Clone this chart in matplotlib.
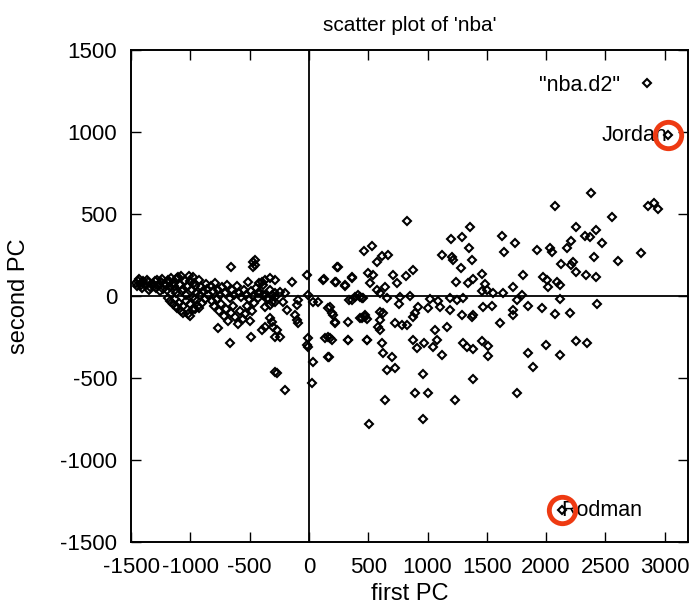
import matplotlib
matplotlib.use("Agg")
import matplotlib.pyplot as plt

plt.rcParams['font.family'] = ['Liberation Sans', 'DejaVu Sans']
plt.rcParams['axes.unicode_minus'] = False

# first / second principal component scores
left_x = [-1460, -1440, -1420, -1400, -1380, -1360, -1340, -1320, -1300, -1290,
          -1270, -1250, -1230, -1210, -1190, -1170, -1150, -1130, -1110, -1090,
          -1070, -1050, -1030, -1010, -990, -970, -950, -930, -910, -890,
          -870, -850, -830, -810, -790, -770, -750, -730, -710, -690,
          -670, -650, -630, -610, -590, -570, -550, -530, -510, -490,
          -470, -450, -430, -410, -390, -370, -350, -330, -310, -290,
          -1190, -1170, -1150, -1130, -1110, -1100, -1080, -1060, -1040, -1020,
          -1000, -980, -960, -940, -900,
          -820, -800, -780, -760, -740, -720, -700, -680, -660, -640,
          -620, -600, -580, -560, -540, -520, -500, -480, -460,
          -658, -472, -472, -767, -666, -489, -927, -1104, -978, -514, -422,
          -1450, -1430, -1410, -1370, -1350, -1310, -1280, -1260, -1240, -1220,
          -1200, -1180, -1160, -1140, -1120, -1080, -1060, -1040, -1000, -980,
          -960, -920, -880, -860, -1120, -1060, -1000, -960]
left_y = [80, 95, 70, 90, 65, 85, 55, 75, 95, 50,
          70, 85, 45, 65, 100, 55, 80, 40, 110, 70,
          30, 95, 60, 120, 40, 80, 20, 100, 55, 30,
          75, 10, 60, 30, 80, 40, 5, 55, 20, 70,
          -10, 35, 5, 60, 20, -5, 40, 10, -15, 30,
          0, 50, -10, 20, 70, 5, -20, 40, 10, -5,
          -10, -30, -50, -20, -70, -40, -90, -60, -30, -110,
          -50, -80, -20, -60, -40,
          -30, -60, -20, -90, -50, -120, -80, -150, -100, -60,
          -130, -170, -90, -140, -110, -60, -150, -90, -40,
          177, 207, 177, -195, -287, -250, -73, 116, 116, 85, 79,
          60, 105, 50, 100, 40, 60, 100, 30, 105, 75,
          35, 85, 110, 60, 20, 120, 45, 5, 90, -5,
          60, 10, -20, 45, -60, -100, -120, -80]

mid_x = [-455, -455, -396, -371, -329, -287, -430, -388, -346, -312,
         -287, -244, -202, -143, -371, -329, -287, -219, -185, -101,
         -93, -329, -312, -303, -371, -396, -270, -244, -287, -118,
         -101, -93, -17, -8, 34, 76, -8, -17, -8, 34,
         25, -287, -270, -202, 135, 177, 160, 118, 219, 303,
         362, 244, 160, 194, 219, 329, 447, 472, 329, 489,
         362, 413, 447]
mid_y = [220, 189, 85, 98, 110, 98, 18, 6, -12, -37,
         18, 24, 18, 85, -67, -55, -37, -37, -85, -55,
         -24, -134, -159, -189, -189, -207, -207, -250, -250, -116,
         -146, -165, 128, 6, -37, -37, -256, -299, -311, -403,
         -531, -464, -470, -573, -256, -256, -372, 98, 85, 67,
         116, 177, -73, -104, -159, -159, -134, -116, -268, -268,
         -24, 6, -12]

right_x = [2074, 2858, 2908, 2942, 826, 2554, 2251, 2327, 2369, 2419,
           2470, 2209, 2175, 2032, 2048, 1922, 1737, 1627, 1644, 1357,
           1290, 1197, 1349, 1374, 1281, 1205, 1214, 1121, 1239, 1340,
           1382, 1458, 1484, 1500, 1458, 1551, 1635, 1720, 1796, 1804,
           1973, 2006, 2091, 2116, 2015, 2124, 2209, 2226, 2251, 2335,
           2403, 2419, 2605, 2799, 2428, 2116, 2200, 2074, 1964, 1846,
           1720, 1720, 1753, 1610, 1543, 1467, 1382, 1374, 1290, 1298,
           1248, 1189, 1189, 1104, 1020, 1087, 1003, 919, 894, 877,
           826, 784, 725, 759, 851, 767, 658, 599, 573, 540,
           497, 514, 624, 599, 599, 582, 599, 1062, 1079, 1045,
           1121, 1163, 877, 910, 969, 615, 624, 700, 725, 658,
           489, 329, 160, 194, 169, 430, 472, 202, 219, 177,
           961, 1382, 894, 1003, 641, 1231, 961, 506, 1458, 1509,
           1298, 1332, 1382, 1509, 1846, 1888, 1998, 2116, 2251, 2344,
           1753, 303, 362, 228, 126, 236, 464, 531, 573, 615,
           666, 641, 708, 742, 818, 877, 388, 430, 455, 337,
           489, 2377]
right_y = [549, 549, 567, 531, 458, 482, 421, 366, 360, 403,
           323, 335, 293, 293, 268, 281, 323, 366, 268, 421,
           360, 348, 293, 220, 171, 238, 220, 250, 85, 79,
           104, 134, 73, 37, 31, 18, 18, 55, 6, 128,
           116, 98, 85, 67, 55, 195, 189, 207, 146, 128,
           238, 116, 214, 262, -49, -18, -104, -110, -73, -61,
           -85, -116, -24, -165, -61, -67, -116, -128, -116, -12,
           -24, -12, -85, -67, -18, -30, -73, -67, -104, -128,
           -177, -177, -165, -49, 0, -6, -12, 18, 37, 128,
           140, 79, -104, -98, -146, -189, -207, -207, -268, -311,
           -360, -189, -268, -317, -287, -287, -348, -372, -439, -451,
           -268, -268, -250, -268, -372, -134, -128, -116, -165, -67,
           -476, -506, -592, -592, -634, -634, -750, -781, -275, -305,
           -287, -311, -323, -366, -348, -433, -299, -360, -275, -287,
           -592, 61, 110, 85, 104, 177, 274, 305, 207, 244,
           250, 55, 128, 79, 122, 159, -6, -6, -12, -24,
           -140, 628]

labels = ['Jordan', 'Rodman']
label_x = [3025, 2131]
label_y = [982, -1305]

pc1 = left_x + mid_x + right_x + label_x
pc2 = left_y + mid_y + right_y + label_y

fig = plt.figure(figsize=(6.94, 6.05), dpi=100)
ax = fig.add_axes([0.189, 0.104, 0.802, 0.813])

ax.axhline(0, color='black', lw=1.3, zorder=1)
ax.axvline(0, color='black', lw=1.3, zorder=1)

ax.plot(pc1, pc2, linestyle='none', marker='D', ms=4.5, mfc='none',
        mec='black', mew=1.5, label='"nba.d2"', zorder=2)

# annotated players with red circles
ax.text(label_x[0], label_y[0], labels[0], ha='right', va='center', fontsize=15.5)
ax.text(label_x[1], label_y[1], labels[1], ha='left', va='center', fontsize=15.5)
ax.plot(label_x, label_y, linestyle='none', marker='o', ms=19, mfc='none',
        mec='#ee3a12', mew=3.5, zorder=5)

ax.set_xlim(-1500, 3195)
ax.set_ylim(-1500, 1500)
ax.set_xticks(range(-1500, 3001, 500))
ax.set_yticks(range(-1500, 1501, 500))
ax.tick_params(direction='in', length=7, width=1, top=True, right=True,
               labelsize=16)
ax.tick_params(axis='y', pad=10)
ax.tick_params(axis='x', pad=11)
for s in ax.spines.values():
    s.set_linewidth(1.4)

ax.set_title("scatter plot of 'nba'", fontsize=15, pad=14)
ax.set_xlabel('first PC', fontsize=17, labelpad=3)
ax.set_ylabel('second PC', fontsize=17, labelpad=22)

ax.legend(loc='upper right', bbox_to_anchor=(0.99, 0.99), frameon=False,
          markerfirst=False, fontsize=15.5, handlelength=1.5, handletextpad=0.5)

fig.savefig('out.png', dpi=100)
